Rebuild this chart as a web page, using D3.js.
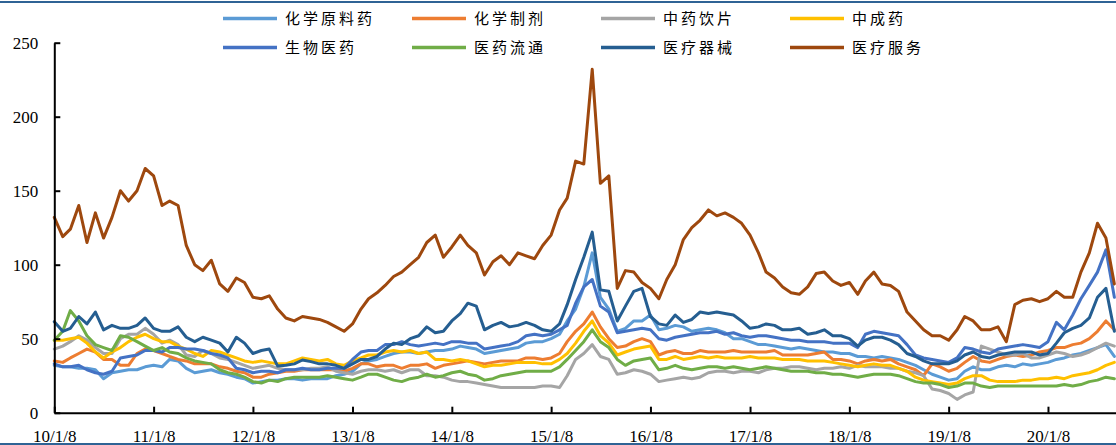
<!DOCTYPE html>
<html><head><meta charset="utf-8">
<script src="https://cdn.jsdelivr.net/npm/d3@7"></script>
<style>
html,body{margin:0;padding:0;background:#fff;}
svg{display:block;}
</style></head>
<body><svg id="chart" width="1116" height="445"></svg>
<script>
// ---- data (monthly samples, 2010-01-08 ... 2020-09-08) ----
const firstYear = 2010;
const monthCount = 129;
const seriesNames = ["化学原料药","化学制剂","中药饮片","中成药","生物医药","医药流通","医疗器械","医疗服务"];
const seriesColors = ["#5B9BD5","#ED7D31","#A5A5A5","#FFC000","#4472C4","#70AD47","#255E91","#9E480E"];

const apiValues = [32,31,31,30,30,29,23,27,28,29,29,31,32,31,36,35,30,27,28,29,27,26,24,23,20,21,22,22,23,23,22,23,23,23,
  25,26,28,33,35,36,38,40,41,41,40,41,42,42,43,45,44,43,40,41,42,43,44,47,48,48,50,53,62,70,85,108,
  78,70,55,57,62,62,66,56,57,59,58,55,56,57,56,54,50,50,48,46,46,45,44,43,44,43,42,41,41,40,40,38,38,
  37,38,37,36,34,32,29,26,24,22,23,28,31,29,29,31,32,31,33,32,33,34,36,37,39,40,42,44,46,38];
const prepValues = [35,34,37,40,43,41,36,36,32,32,40,43,42,40,38,36,35,33,33,33,31,30,28,27,24,24,26,27,28,28,29,29,29,29,
  29,28,30,33,33,31,32,32,30,32,32,33,30,32,33,34,35,34,33,34,35,35,35,37,37,36,37,40,48,55,60,68,
  58,50,44,45,48,50,48,39,41,42,40,40,42,41,41,41,42,41,41,41,41,42,39,39,39,39,40,41,36,36,35,
  33,35,36,35,36,33,31,29,25,33,31,28,30,34,38,35,34,36,38,39,38,39,41,42,44,44,46,47,50,55,62,56];
const herbValues = [43,45,48,52,49,44,40,40,50,53,53,57,53,47,49,46,39,38,42,40,37,36,34,32,30,31,32,30,29,29,29,30,30,31,
  28,27,26,28,29,29,28,29,27,29,29,25,25,24,22,21,21,20,19,18,17,17,17,17,17,18,18,17,25,36,40,46,
  38,36,26,27,29,28,26,21,22,23,24,23,24,27,28,28,27,28,28,27,29,30,30,31,31,30,29,30,30,31,30,
  32,31,31,31,30,30,28,27,25,16,15,13,9,12,14,45,43,41,39,39,40,37,37,39,41,40,38,39,41,44,47,45];
const tcmValues = [49,49,50,51,47,41,37,41,44,48,51,53,50,48,48,45,43,40,38,42,41,39,37,35,34,35,34,33,33,35,37,36,35,36,
  33,32,35,37,39,39,41,42,41,42,40,41,36,36,35,36,35,33,31,32,32,33,34,34,34,33,33,36,40,47,55,62,
  52,47,39,41,43,44,45,36,36,38,36,37,38,37,38,37,37,37,38,37,37,37,36,36,36,35,35,35,34,33,32,
  31,32,33,32,32,30,28,24,22,21,20,19,20,23,25,25,22,21,21,21,22,22,23,23,24,23,25,26,27,29,32,34];
const bioValues = [33,31,31,32,29,27,26,28,37,38,39,42,42,41,44,44,43,43,42,40,39,37,30,29,27,28,28,27,29,29,30,29,29,30,
  30,30,36,41,42,42,46,46,48,46,45,46,47,46,48,48,47,47,43,44,45,46,48,52,53,52,53,56,59,74,85,
  90,72,68,54,55,56,57,56,50,49,51,52,53,54,54,55,53,54,52,51,52,52,51,50,49,49,48,48,48,47,47,47,
  44,53,55,54,53,52,46,39,37,36,35,34,37,44,43,41,40,43,44,45,46,45,44,48,61,56,66,77,86,95,110,78];
const distValues = [49,55,69,62,52,46,44,42,52,51,48,45,42,44,41,40,37,35,34,33,29,27,26,24,21,20,22,21,23,24,24,24,24,25,
  24,23,22,24,26,26,24,22,21,23,24,26,24,25,27,28,26,25,22,23,25,26,27,28,28,28,28,31,36,42,48,56,
  48,44,36,32,35,36,37,29,30,32,30,29,30,31,31,30,31,30,29,30,31,30,29,28,28,28,27,27,26,26,25,
  24,25,26,26,26,25,23,21,20,20,19,17,18,20,20,18,17,18,18,18,18,18,18,18,18,19,18,19,21,22,24,23];
const deviceValues = [61.5,55,57,65,60,68,56,59,57,57,59,64,57,55,55,58,51,48,51,49,47,41,51,47,40,42,43,31.5,32,33,35.6,34.5,33,33,
  32,30,33,36,36,38,43,47,46,50,52,58,54,55,62,67,74,72,56,59,61,58,59,61,59,56,55,60,73,90,105,
  122,83,82,62,72,82,84,65,60,59,66,61,63,68,67,68,67,66,62,57,58,60,59,56,56,57,53,54,56,52,52,50,
  45,49,51,51,49,46,40,38,35,33,33,33,35,39,41,38,37,39,40,41,41,41,39,40,47,54,57,59,64,78,84,55];
const serviceValues = [132,119,124,140,115,135,118,132,150,143,150,165,160,140,143,140,113,100,96,103,87,82,91,88,78,77,79,70,64,62,65,64,63,61,
  58,55,60,70,77,81,86,92,95,100,105,115,120,105,112,120,113,108,93,102,
  106,100,108,106,104,113,120,137,145,170,168,232,155,160,84,96,95,88,84,77,
  90,100,117,125,130,137,133,135,132,128,120,108,95,91,85,81,80,85,94,95,89,86,88,
  80,89,95,87,86,82,68,62,56,52,52,49,56,65,62,56,56,58,48,73,76,77,75,77,82,78,78,95,108,128,118,87];

const xTickLabels = ["10/1/8","11/1/8","12/1/8","13/1/8","14/1/8","15/1/8","16/1/8","17/1/8","18/1/8","19/1/8","20/1/8"];
const yTickValues = [0,50,100,150,200,250];

// ---- drawing ----
const allSeries = [apiValues,prepValues,herbValues,tcmValues,bioValues,distValues,deviceValues,serviceValues];
const months = d3.range(monthCount).map(m => new Date(firstYear, m, 8));
const tickDates = xTickLabels.map((t,i) => new Date(firstYear + i, 0, 8));

const svg = d3.select("#chart");
const x = d3.scaleTime().domain([new Date(2010,0,8), new Date(2020,8,14)]).range([54.3, 1116]);
const y = d3.scaleLinear().domain([0,250]).range([412.7, 42.7]);

// frame lines
svg.append("line").attr("x1",0).attr("x2",1116).attr("y1",2).attr("y2",2)
  .attr("stroke","#2f6395").attr("stroke-width",2);
svg.append("line").attr("x1",0).attr("x2",1116).attr("y1",444).attr("y2",444)
  .attr("stroke","#2f6395").attr("stroke-width",2);

const line = d3.line().x((d,i) => x(months[i])).y(d => y(d));
svg.append("g").selectAll("path").data(allSeries).join("path")
  .attr("d", d => line(d))
  .attr("fill","none")
  .attr("stroke",(d,i) => seriesColors[i])
  .attr("stroke-width",3)
  .attr("stroke-linejoin","round")
  .attr("stroke-linecap","round");

const gy = svg.append("g").attr("transform",`translate(${x.range()[0]},0)`)
  .call(d3.axisLeft(y).tickValues(yTickValues).tickSizeInner(-6).tickSizeOuter(0).tickPadding(16));
const gx = svg.append("g").attr("transform",`translate(0,${y(0)})`)
  .call(d3.axisBottom(x).tickValues(tickDates).tickFormat((d,i) => xTickLabels[i]).tickSizeInner(-6).tickSizeOuter(0).tickPadding(17));
[gx,gy].forEach(g => {
  g.select(".domain").attr("stroke","#000").attr("stroke-width",2);
  g.selectAll(".tick line").attr("stroke","#000").attr("stroke-width",2);
  g.selectAll("text").attr("fill","#000").style("font-family","'Liberation Serif','Times New Roman',serif").style("font-size","17px");
});

// legend
const leg = svg.append("g");
seriesNames.forEach((name,i) => {
  const col = i % 4, row = Math.floor(i / 4);
  const lx = 223 + col * 189, ly = 18.5 + row * 29;
  leg.append("line").attr("x1",lx).attr("x2",lx+54).attr("y1",ly).attr("y2",ly)
    .attr("stroke",seriesColors[i]).attr("stroke-width",3.5);
  leg.append("text").attr("x",lx+62).attr("y",ly).attr("dy","0.36em")
    .style("font-family","'Noto Sans CJK SC',sans-serif").style("font-size","15px")
    .style("letter-spacing","3px").attr("fill","#000").text(name);
});
</script>
</body></html>
